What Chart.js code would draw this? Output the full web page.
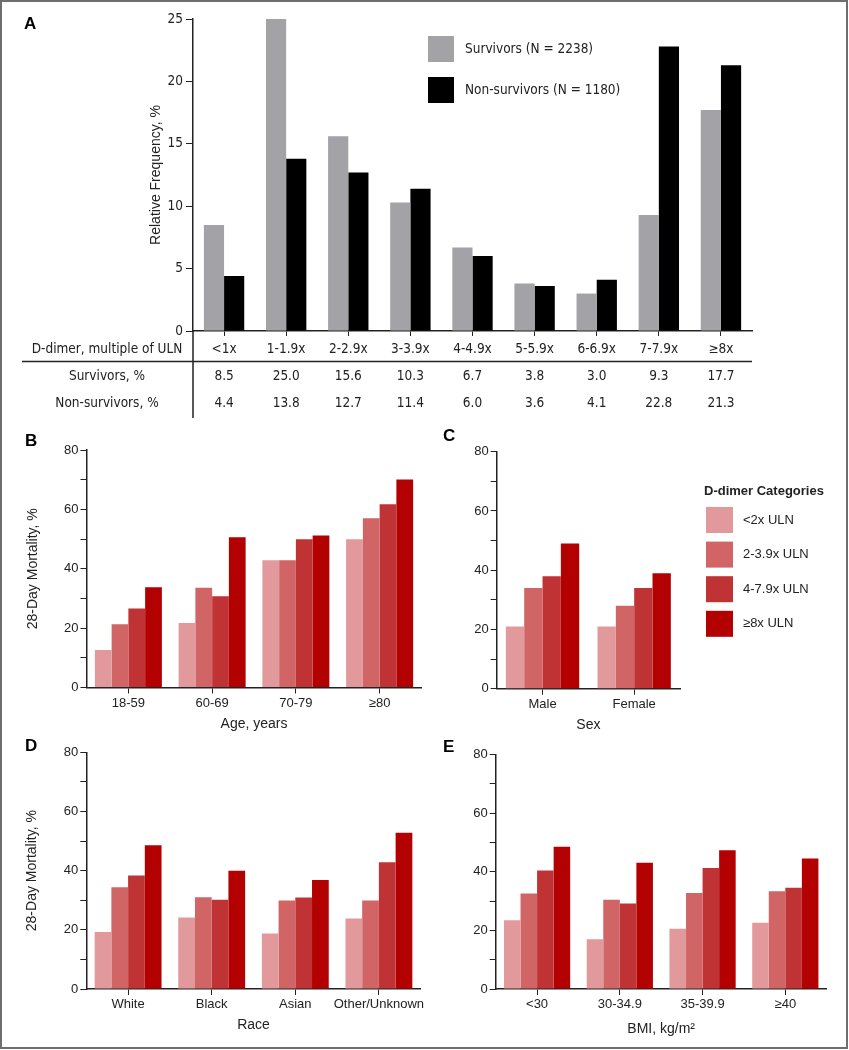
<!DOCTYPE html>
<html>
<head>
<meta charset="utf-8">
<script src="https://cdn.jsdelivr.net/npm/chart.js@4/dist/chart.umd.min.js"></script>
<style>
  body { margin: 0; background: #fff; }
  #page { position: relative; width: 849px; height: 1050px; overflow: hidden; }
  #page canvas { position: absolute; }
  #frame { position: absolute; left: 0; top: 0; width: 848px; height: 1049px; box-sizing: border-box; border: 2px solid #6e6e6e; pointer-events: none; }
</style>
</head>
<body>
<div id="page">
  <canvas id="chartA" width="849" height="420" style="left:0;top:0"></canvas>
  <canvas id="chartB" width="430" height="330" style="left:0;top:420px"></canvas>
  <canvas id="chartC" width="419" height="330" style="left:430px;top:420px"></canvas>
  <canvas id="chartD" width="430" height="330" style="left:0;top:720px"></canvas>
  <canvas id="chartE" width="419" height="330" style="left:430px;top:720px"></canvas>
  <div id="frame"></div>
</div>
<script>
// panel A: relative frequency by D-dimer multiple of ULN
const freqCategories = ["<1x", "1-1.9x", "2-2.9x", "3-3.9x", "4-4.9x", "5-5.9x", "6-6.9x", "7-7.9x", "≥8x"];
const survivorsPct = [8.5, 25.0, 15.6, 10.3, 6.7, 3.8, 3.0, 9.3, 17.7];
const nonSurvivorsPct = [4.4, 13.8, 12.7, 11.4, 6.0, 3.6, 4.1, 22.8, 21.3];

// panels B-E: 28-day mortality, one row per D-dimer category
const ddimerLabels = ["<2x ULN", "2-3.9x ULN", "4-7.9x ULN", "≥8x ULN"];

const ageGroups = ["18-59", "60-69", "70-79", "≥80"];
const ageMortality = [
  [12.6, 21.7, 42.9, 49.9],
  [21.3, 33.6, 42.9, 57.0],
  [26.6, 30.7, 49.9, 61.7],
  [33.8, 50.6, 51.2, 70.1]
];

const sexGroups = ["Male", "Female"];
const sexMortality = [
  [21.0, 21.0],
  [34.0, 28.0],
  [38.0, 34.0],
  [49.0, 39.0]
];

const raceGroups = ["White", "Black", "Asian", "Other/Unknown"];
const raceMortality = [
  [19.3, 24.2, 18.8, 23.8],
  [34.4, 31.0, 29.9, 29.9],
  [38.4, 30.2, 30.9, 42.8],
  [48.6, 40.0, 36.8, 52.8]
];

const bmiGroups = ["<30", "30-34.9", "35-39.9", "≥40"];
const bmiMortality = [
  [23.5, 17.0, 20.6, 22.6],
  [32.6, 30.5, 32.8, 33.4],
  [40.5, 29.2, 41.3, 34.6],
  [48.6, 43.1, 47.4, 44.6]
];

const mortalityTicks = [0, 20, 40, 60, 80];

// styling
const ink = "#222";
const reds = ["#e1999b", "#d16566", "#c03334", "#b30000"];
const narrow = "'Liberation Sans Narrow', 'Arial Narrow', 'DejaVu Sans Condensed', sans-serif";
const sans = "'Liberation Sans', Arial, Helvetica, sans-serif";
const narrowSize = 13.5;

Chart.defaults.font.family = sans;
Chart.defaults.color = ink;

function panelLetter(ctx, letter, x, y) {
  ctx.font = "bold 17px " + sans;
  ctx.fillStyle = "#000";
  ctx.textAlign = "left";
  ctx.textBaseline = "middle";
  ctx.fillText(letter, x, y);
}

// ---------- panel A ----------
const tableA = {
  id: "tableA",
  afterDraw(chart) {
    const { ctx } = chart;
    const x = chart.scales.x;
    ctx.save();
    ctx.strokeStyle = ink;
    ctx.lineWidth = 1.5;
    ctx.beginPath();
    ctx.moveTo(22, 361.5);
    ctx.lineTo(x.right, 361.5);
    ctx.moveTo(x.left, x.top);
    ctx.lineTo(x.left, 418);
    ctx.stroke();

    ctx.fillStyle = ink;
    ctx.font = narrowSize + "px " + narrow;
    ctx.textAlign = "center";
    ctx.textBaseline = "middle";
    ctx.fillText("D-dimer, multiple of ULN", 107, 349);
    ctx.fillText("Survivors, %", 107, 376);
    ctx.fillText("Non-survivors, %", 107, 403);
    survivorsPct.forEach((v, i) => ctx.fillText(v.toFixed(1), x.getPixelForValue(i), 376));
    nonSurvivorsPct.forEach((v, i) => ctx.fillText(v.toFixed(1), x.getPixelForValue(i), 403));

    // legend
    ctx.textAlign = "left";
    chart.data.datasets.forEach((ds, i) => {
      const top = 36 + i * 41;
      ctx.fillStyle = ds.backgroundColor;
      ctx.fillRect(428, top, 26, 26);
      ctx.fillStyle = ink;
      ctx.fillText(ds.label, 465, top + 13);
    });

    panelLetter(ctx, "A", 24, 24);
    ctx.restore();
  }
};

new Chart(document.getElementById("chartA"), {
  type: "bar",
  data: {
    labels: freqCategories,
    datasets: [
      { label: "Survivors (N = 2238)", data: survivorsPct, backgroundColor: "#a2a2a7" },
      { label: "Non-survivors (N = 1180)", data: nonSurvivorsPct, backgroundColor: "#000000" }
    ]
  },
  options: {
    responsive: false,
    animation: false,
    layout: { padding: { left: 133, right: 97, top: 19, bottom: 0 } },
    datasets: { bar: { categoryPercentage: 0.65, barPercentage: 1 } },
    plugins: { legend: { display: false }, tooltip: { enabled: false } },
    scales: {
      x: {
        grid: { offset: false, drawOnChartArea: false, tickLength: 5, tickColor: ink },
        border: { color: ink, width: 1.5 },
        ticks: { font: { family: narrow, size: narrowSize }, color: ink, padding: 5, maxRotation: 0, autoSkip: false },
        afterFit: (s) => { s.height = 89; }
      },
      y: {
        min: 0,
        max: 25,
        ticks: { stepSize: 5, font: { family: narrow, size: narrowSize }, color: ink, padding: 3 },
        grid: { drawOnChartArea: false, tickLength: 7, tickColor: ink },
        border: { color: ink, width: 1.5 },
        title: { display: true, text: "Relative Frequency, %", font: { family: sans, size: 14 }, color: ink, padding: { top: 15, bottom: 0 } },
        afterFit: (s) => { s.width = 60; }
      }
    }
  },
  plugins: [tableA]
});

// ---------- panels B-E ----------
function mortalityChart(id, groups, rows, o) {
  const extras = {
    id: "extras" + id,
    afterDraw(chart) {
      const { ctx } = chart;
      ctx.save();
      panelLetter(ctx, o.letter, o.letterX, o.letterY);
      if (o.legend) {
        ctx.fillStyle = ink;
        ctx.font = "bold 13px " + sans;
        ctx.textAlign = "left";
        ctx.textBaseline = "middle";
        ctx.fillText("D-dimer Categories", 274, 71);
        ctx.font = "13px " + sans;
        chart.data.datasets.forEach((ds, i) => {
          const top = 87 + i * 34.6;
          ctx.fillStyle = ds.backgroundColor;
          ctx.fillRect(276, top, 27, 26);
          ctx.fillStyle = ink;
          ctx.fillText(ds.label, 313, top + 13);
        });
      }
      ctx.restore();
    }
  };

  return new Chart(document.getElementById(id), {
    type: "bar",
    data: {
      labels: groups,
      datasets: rows.map((vals, i) => ({
        label: ddimerLabels[i],
        data: vals,
        backgroundColor: reds[i]
      }))
    },
    options: {
      responsive: false,
      animation: false,
      layout: { padding: { left: o.padLeft, right: o.padRight, top: o.padTop, bottom: 0 } },
      datasets: { bar: { categoryPercentage: 0.8, barPercentage: 1 } },
      plugins: { legend: { display: false }, tooltip: { enabled: false } },
      scales: {
        x: {
          grid: { offset: false, drawOnChartArea: false, tickLength: 6, tickColor: ink },
          border: { color: ink, width: 1.5 },
          ticks: { font: { size: 13 }, color: ink, padding: 2, maxRotation: 0, autoSkip: false },
          title: { display: true, text: o.xTitle, font: { size: 14 }, color: ink, padding: { top: 0, bottom: o.xTitlePad } },
          afterFit: (s) => { s.height = o.xHeight; }
        },
        y: {
          min: 0,
          max: 80,
          afterBuildTicks: (s) => {
            const t = [];
            for (let v = 0; v <= 80; v += 10) t.push({ value: v });
            s.ticks = t;
          },
          ticks: {
            font: { size: 13 },
            color: ink,
            padding: 2,
            callback: (v) => (mortalityTicks.includes(v) ? v : "")
          },
          grid: { drawOnChartArea: false, tickLength: 6, tickColor: ink },
          border: { color: ink, width: 1.5 },
          title: { display: o.yTitle, text: "28-Day Mortality, %", font: { size: 14 }, color: ink, padding: { top: o.yTitlePad, bottom: 0 } },
          afterFit: (s) => { s.width = o.yWidth; }
        }
      }
    },
    plugins: [extras]
  });
}

mortalityChart("chartB", ageGroups, ageMortality, {
  padLeft: 16.5, padRight: 8.5, padTop: 30, yWidth: 70, xHeight: 62.5,
  xTitle: "Age, years", xTitlePad: 17.5, yTitle: true, yTitlePad: 8,
  letter: "B", letterX: 25, letterY: 21
});

mortalityChart("chartC", sexGroups, sexMortality, {
  padLeft: 16.7, padRight: 169, padTop: 31.7, yWidth: 50, xHeight: 61.3,
  xTitle: "Sex", xTitlePad: 16.6, yTitle: false, yTitlePad: 0,
  letter: "C", letterX: 13, letterY: 16, legend: true
});

mortalityChart("chartD", raceGroups, raceMortality, {
  padLeft: 16.3, padRight: 9.3, padTop: 32.3, yWidth: 70, xHeight: 61,
  xTitle: "Race", xTitlePad: 16, yTitle: true, yTitlePad: 7.6,
  letter: "D", letterX: 25, letterY: 26
});

mortalityChart("chartE", bmiGroups, bmiMortality, {
  padLeft: 15.7, padRight: 22.3, padTop: 34.7, yWidth: 50, xHeight: 61,
  xTitle: "BMI, kg/m²", xTitlePad: 12, yTitle: false, yTitlePad: 0,
  letter: "E", letterX: 13, letterY: 27
});
</script>
</body>
</html>
